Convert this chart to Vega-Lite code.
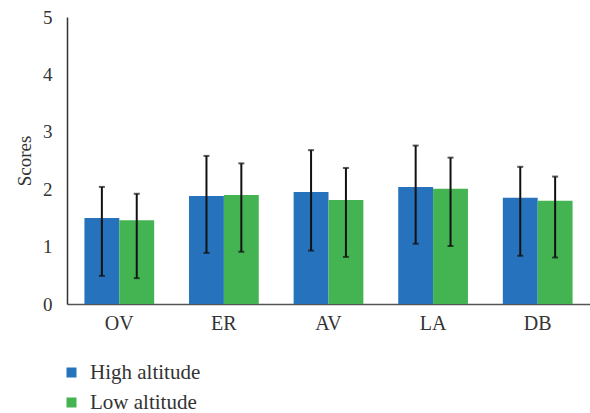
{
  "$schema": "https://vega.github.io/schema/vega-lite/v6.json",
  "width": 523,
  "height": 287,
  "autosize": {"type": "none"},
  "padding": {"left": 67, "top": 17, "right": 0, "bottom": 109},
  "background": "white",
  "config": {
    "view": {"stroke": null},
    "font": "Liberation Serif",
    "axis": {"labelFont": "Liberation Serif", "titleFont": "Liberation Serif", "labelColor": "#333333", "titleColor": "#333333", "grid": false, "ticks": false, "titleFontWeight": "normal"},
    "legend": {"labelFont": "Liberation Serif"}
  },
  "data": {
    "values": [
      {"cat": "OV", "group": "High altitude", "mean": 1.50, "lo": 0.49, "hi": 2.04},
      {"cat": "OV", "group": "Low altitude", "mean": 1.46, "lo": 0.45, "hi": 1.92},
      {"cat": "ER", "group": "High altitude", "mean": 1.88, "lo": 0.89, "hi": 2.58},
      {"cat": "ER", "group": "Low altitude", "mean": 1.90, "lo": 0.91, "hi": 2.45},
      {"cat": "AV", "group": "High altitude", "mean": 1.95, "lo": 0.93, "hi": 2.68},
      {"cat": "AV", "group": "Low altitude", "mean": 1.81, "lo": 0.82, "hi": 2.37},
      {"cat": "LA", "group": "High altitude", "mean": 2.04, "lo": 1.05, "hi": 2.76},
      {"cat": "LA", "group": "Low altitude", "mean": 2.01, "lo": 1.01, "hi": 2.55},
      {"cat": "DB", "group": "High altitude", "mean": 1.85, "lo": 0.84, "hi": 2.39},
      {"cat": "DB", "group": "Low altitude", "mean": 1.80, "lo": 0.81, "hi": 2.22}
    ]
  },
  "encoding": {
    "x": {
      "field": "cat", "type": "nominal", "sort": ["OV", "ER", "AV", "LA", "DB"],
      "scale": {"paddingInner": 0.3333, "paddingOuter": 0.1667},
      "axis": {"title": null, "labelAngle": 0, "labelFontSize": 20, "labelPadding": 9, "domainColor": "#555555", "domainWidth": 1.5}
    },
    "xOffset": {"field": "group", "type": "nominal", "sort": ["High altitude", "Low altitude"], "scale": {"paddingInner": 0, "paddingOuter": 0}}
  },
  "layer": [
    {
      "mark": {"type": "bar"},
      "encoding": {
        "y": {
          "field": "mean", "type": "quantitative",
          "scale": {"domain": [0, 5], "nice": false},
          "axis": {"title": "Scores", "titleFontSize": 19, "titlePadding": 8, "labelFontSize": 19, "labelPadding": 15, "format": "d", "values": [0, 1, 2, 3, 4, 5], "domainColor": "#333333", "domainWidth": 1.5}
        },
        "color": {
          "field": "group", "type": "nominal",
          "scale": {"domain": ["High altitude", "Low altitude"], "range": ["#2672BC", "#43B451"]},
          "legend": {"title": null, "orient": "none", "legendX": -6, "legendY": 345, "direction": "vertical", "symbolType": "square", "symbolSize": 100, "symbolStrokeWidth": 0, "labelFontSize": 21, "labelColor": "#333333", "rowPadding": 8, "labelOffset": 8}
        }
      }
    },
    {
      "mark": {"type": "rule", "color": "#111111", "strokeWidth": 2},
      "encoding": {
        "y": {"field": "lo", "type": "quantitative"},
        "y2": {"field": "hi"}
      }
    },
    {
      "mark": {"type": "tick", "color": "#111111", "thickness": 2, "size": 6, "orient": "horizontal"},
      "encoding": {"y": {"field": "lo", "type": "quantitative"}}
    },
    {
      "mark": {"type": "tick", "color": "#111111", "thickness": 2, "size": 6, "orient": "horizontal"},
      "encoding": {"y": {"field": "hi", "type": "quantitative"}}
    }
  ]
}
